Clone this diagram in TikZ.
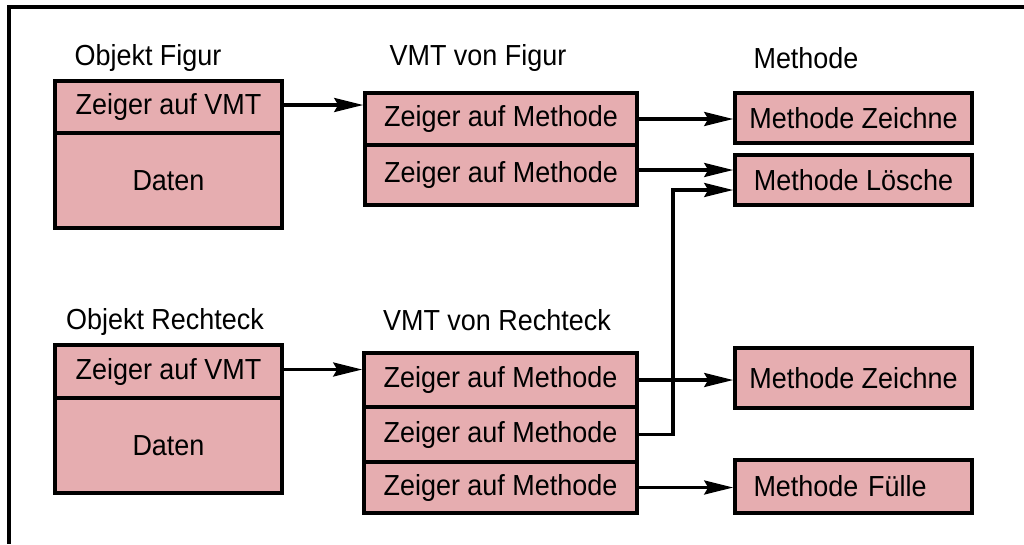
\documentclass[tikz,border=0pt]{standalone}
\usepackage{fontspec}
\setmainfont{Liberation Sans}[FakeStretch=0.93]
\usetikzlibrary{arrows.meta}

\definecolor{zellrosa}{RGB}{230,173,176}

\tikzset{
  zelle/.style={draw, fill=zellrosa, line width=3.6pt, inner sep=0pt,
                font=\fontsize{29}{31}\selectfont},
  titel/.style={inner sep=0pt, font=\fontsize{29}{31}\selectfont},
  zeiger/.style={line width=3.2pt, -{Stealth[length=29pt,width=14pt,inset=4pt]}},
}

\begin{document}
\begin{tikzpicture}[x=1pt,y=-1pt]
        \useasboundingbox (0,0) rectangle (1024,544);
        % Rahmen
        \draw[line width=3.6pt] (1024,7) -- (9,7) -- (9,544);

        % Objekt Figur
        \node[titel] (tOF) at (148,58) {Objekt Figur};
        \node[zelle, minimum width=227pt, minimum height=52pt] (OFz) at (168.5,107)   {Zeiger auf VMT};
        \node[zelle, minimum width=227pt, minimum height=95pt] (OFd) at (168.5,180.5) {Daten};
        %
        % Objekt Rechteck
        \node[titel] (tOR) at (165,322) {Objekt Rechteck};
        \node[zelle, minimum width=227pt, minimum height=53pt] (ORz) at (168.5,371.5) {Zeiger auf VMT};
        \node[zelle, minimum width=227pt, minimum height=95pt] (ORd) at (168.5,445.5) {Daten};

        % VMT von Figur
        \node[titel] (tVF) at (478,58) {VMT von Figur};
        \node[zelle, minimum width=272pt, minimum height=52pt] (VF1) at (501,119) {Zeiger auf Methode};
        \node[zelle, minimum width=272pt, minimum height=60pt] (VF2) at (501,175) {Zeiger auf Methode};
        %
        % VMT von Rechteck
        \node[titel] (tVR) at (497,320) {VMT von Rechteck};
        \node[zelle, minimum width=273pt, minimum height=54pt] (VR1) at (500.5,380)   {Zeiger auf Methode};
        \node[zelle, minimum width=273pt, minimum height=55pt] (VR2) at (500.5,434.5) {Zeiger auf Methode};
        \node[zelle, minimum width=273pt, minimum height=51pt] (VR3) at (500.5,487.5) {Zeiger auf Methode};

        % Methoden
        \node[titel] (tM) at (806,58) {Methode};
        \node[zelle, minimum width=237pt, minimum height=50pt] (MZf) at (853.5,118)   {Methode Zeichne};
        \node[zelle, minimum width=237pt, minimum height=50pt] (ML)  at (853.5,180)   {Methode Lösche};
        \node[zelle, minimum width=237pt, minimum height=60pt] (MZr) at (853.5,378)   {Methode Zeichne};
        \node[zelle, minimum width=237pt, minimum height=53pt, text width=200pt] (MF) at (853.5,486.5) {Methode Fülle};

        % Zeiger
        \draw[zeiger] ([yshift=2pt]OFz.east) -- ([yshift=2pt]OFz.east -| VF1.west);
        \draw[zeiger] ([yshift=2pt]ORz.east) -- ([yshift=2pt]ORz.east -| VR1.west);
        %
        \draw[zeiger] (VF1.east) -- (VF1.east -| MZf.west);
        \draw[zeiger] ([yshift=5pt]VF2.east) -- ([yshift=5pt]VF2.east -| ML.west);
        %
        \coordinate (knick) at (673,190);
        \draw[zeiger] (VR2.east) -| (knick) -- (knick -| ML.west);
        \draw[zeiger] (VR1.east) -- (VR1.east -| MZr.west);
        \draw[zeiger] (VR3.east) -- (VR3.east -| MF.west);
\end{tikzpicture}
\end{document}
